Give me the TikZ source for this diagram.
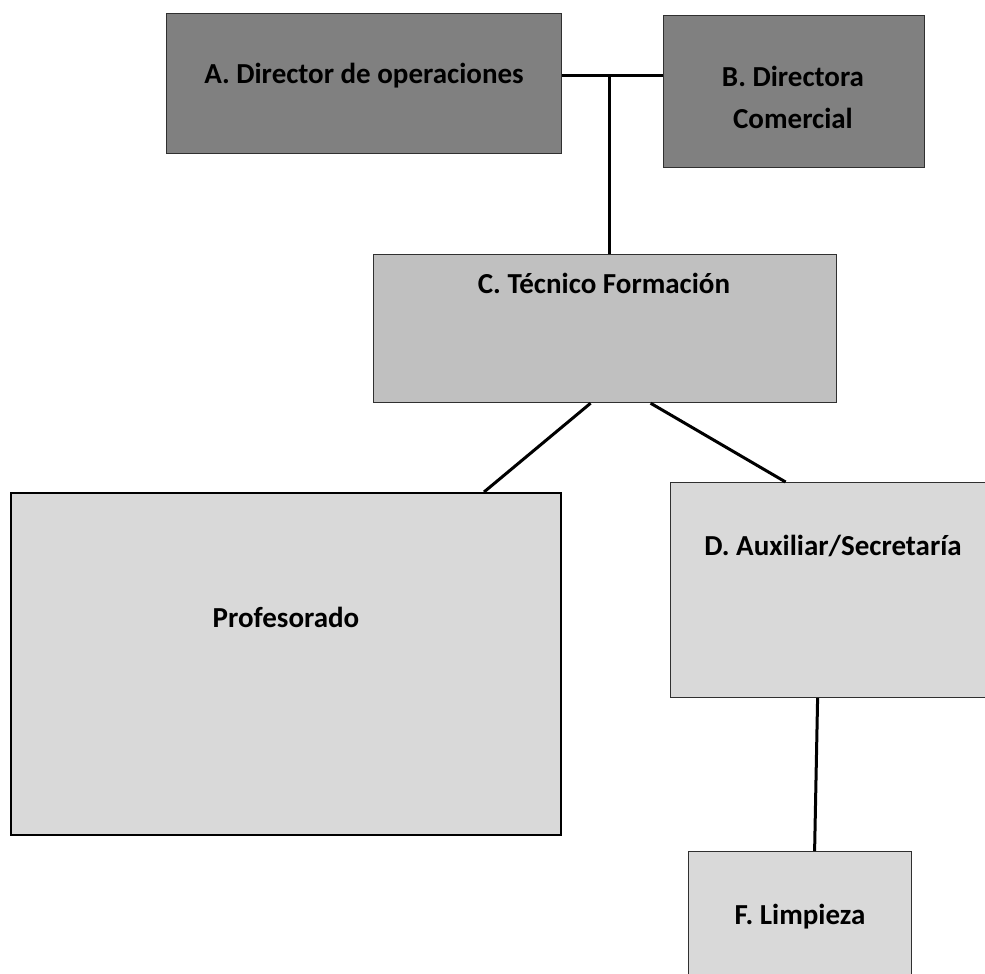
\documentclass[tikz,border=0pt]{standalone}
\usepackage{fontspec}
\setmainfont{Carlito}
\usetikzlibrary{positioning}

\definecolor{darkfill}{HTML}{808080}
\definecolor{midfill}{HTML}{C0C0C0}
\definecolor{lightfill}{HTML}{D9D9D9}
\definecolor{boxline}{HTML}{303030}

\begin{document}
\begin{tikzpicture}[x=1pt,y=-1pt,
        box/.style={draw=boxline, line width=1.2pt, inner sep=0pt, anchor=north west},
        txt/.style={font=\bfseries\fontsize{29}{42}\selectfont, align=center, inner sep=0pt},
        link/.style={draw=black, line width=3pt}]
    \useasboundingbox (0,0) rectangle (985,974);
    \clip (0,0) rectangle (985,974);

    % boxes
    \node[box, fill=darkfill,  minimum width=395pt, minimum height=140pt] (dirop)  at (166,13)  {};
    \node[box, fill=darkfill,  minimum width=261pt, minimum height=152pt] (dircom) at (663,15)  {};
    \node[box, fill=midfill,   minimum width=463pt, minimum height=148pt] (tecn)   at (373,254) {};
    \node[box, fill=lightfill, minimum width=550pt, minimum height=342pt, draw=black, line width=2pt] (prof) at (10,492) {};
    \node[box, fill=lightfill, minimum width=326pt, minimum height=215pt] (aux)    at (670,482) {};
    \node[box, fill=lightfill, minimum width=223pt, minimum height=130pt] (limp)   at (688,851) {};

    % texts
    \node[txt, anchor=base] (dirop_t)  at (364,84)  {A. Director de operaciones};
    \node[txt]              (dircom_t) at (793,97)  {B. Directora\\Comercial};
    \node[txt, anchor=base] (tecn_t)   at (604,293) {C. Técnico Formación};
    \node[txt, anchor=base] (prof_t)   at (286,627) {Profesorado};
    \node[txt, anchor=base] (aux_t)    at (833,555) {D. Auxiliar/Secretaría};
    \node[txt, anchor=base] (limp_t)   at (800,924) {F. Limpieza};

    % connectors
    \coordinate (jn) at (609,76);
    \draw[link] (jn -| dirop.east) -- (jn -| dircom.west);
    \draw[link] (jn) -- (jn |- tecn.north);
    \draw[link] ([xshift=-14.5pt]tecn.south) -- ([xshift=198pt]prof.north);
    \draw[link] ([xshift=45.5pt]tecn.south) -- ([xshift=-48pt]aux.north);
    \draw[link] ([xshift=-16pt]aux.south) -- ([xshift=14.5pt]limp.north);
\end{tikzpicture}
\end{document}
